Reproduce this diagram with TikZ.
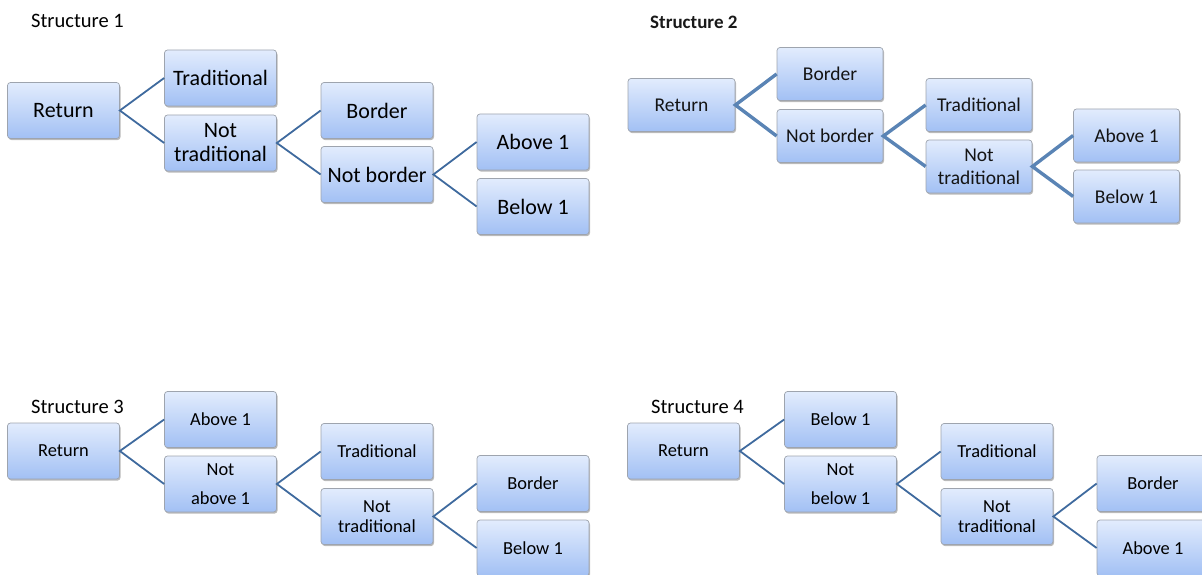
\documentclass[tikz,border=0pt]{standalone}
\usepackage{fontspec}
\setmainfont{Carlito}
\usetikzlibrary{shadows}
\definecolor{boxtop}{HTML}{E2ECFD}
\definecolor{boxbot}{HTML}{A2C0F4}
\definecolor{boxline}{HTML}{9EA4AE}
\definecolor{conn}{HTML}{3F6A9E}
\definecolor{conntwo}{HTML}{5A84B5}
\tikzset{
  bx/.style={rectangle, rounded corners=3pt, draw=boxline, line width=0.7pt,
    top color=boxtop, bottom color=boxbot, inner sep=0pt, align=center,
    drop shadow={shadow xshift=1pt, shadow yshift=-1.6pt, opacity=0.45, fill=black!60}},
  bxA/.style={bx, minimum width=112pt, minimum height=56pt, font=\fontsize{22}{24}\selectfont},
  bxB/.style={bx, minimum width=106pt, minimum height=53pt, font=\fontsize{19.5}{23}\selectfont, text=black!92},
  bxC/.style={bx, minimum width=112pt, minimum height=56pt, font=\fontsize{18.4}{29}\selectfont},
  bxCt/.style={bxC, font=\fontsize{18.4}{20}\selectfont},
  lnA/.style={draw=conn, line width=1.8pt},
  lnB/.style={draw=conntwo, line width=3.4pt},
  ttl/.style={anchor=west, inner sep=0pt, font=\fontsize{20.5}{24}\selectfont},
}
\begin{document}
\begin{tikzpicture}[x=1pt,y=-1pt]
\useasboundingbox (0,0) rectangle (1202,575);
\clip (0,0) rectangle (1202,575);
% ---------- Structure 1
\node[ttl] (t1) at (31,21) {Structure 1};
\node[bxA] (s1r) at (63.5,110.5) {Return};
\node[bxA] (s1a) at (220.5,78) {Traditional};
\node[bxA] (s1b) at (220.5,143) {Not\\traditional};
\node[bxA] (s1c) at (377,110.5) {Border};
\node[bxA] (s1d) at (377,174.5) {Not border};
\node[bxA] (s1e) at (533,142) {Above 1};
\node[bxA] (s1f) at (533,206.5) {Below 1};
\draw[lnA] (s1a.west) -- (s1r.east) -- (s1b.west);
\draw[lnA] (s1c.west) -- (s1b.east) -- (s1d.west);
\draw[lnA] (s1e.west) -- (s1d.east) -- (s1f.west);
% ---------- Structure 2
\node[ttl, font=\bfseries\fontsize{19}{23}\selectfont, text=black!90] (t2) at (650,22) {Structure 2};
\node[bxB, minimum width=107pt] (s2r) at (681.5,105) {Return};
\node[bxB] (s2a) at (830,74) {Border};
\node[bxB] (s2b) at (830,136) {Not border};
\node[bxB] (s2c) at (979,105) {Traditional};
\node[bxB] (s2d) at (979,166.5) {Not\\traditional};
\node[bxB] (s2e) at (1126.5,135.5) {Above 1};
\node[bxB] (s2f) at (1126.5,196.5) {Below 1};
\draw[lnB] (s2a.west) -- (s2r.east) -- (s2b.west);
\draw[lnB] (s2c.west) -- (s2b.east) -- (s2d.west);
\draw[lnB] (s2e.west) -- (s2d.east) -- (s2f.west);
% ---------- Structure 3
\node[ttl] (t3) at (31,407) {Structure 3};
\node[bxC] (s3r) at (63.5,451) {Return};
\node[bxC] (s3a) at (220.5,419.5) {Above 1};
\node[bxC] (s3b) at (220.5,484) {Not\\above 1};
\node[bxC] (s3c) at (377,451.5) {Traditional};
\node[bxCt] (s3d) at (377,516.5) {Not\\traditional};
\node[bxC] (s3e) at (533,483.5) {Border};
\node[bxC] (s3f) at (533,548) {Below 1};
\draw[lnA] (s3a.west) -- (s3r.east) -- (s3b.west);
\draw[lnA] (s3c.west) -- (s3b.east) -- (s3d.west);
\draw[lnA] (s3e.west) -- (s3d.east) -- (s3f.west);
% ---------- Structure 4
\node[ttl] (t4) at (651,407) {Structure 4};
\node[bxC] (s4r) at (683.5,451) {Return};
\node[bxC] (s4a) at (840.5,419.5) {Below 1};
\node[bxC] (s4b) at (840.5,484) {Not\\below 1};
\node[bxC] (s4c) at (997,451.5) {Traditional};
\node[bxCt] (s4d) at (997,516.5) {Not\\traditional};
\node[bxC] (s4e) at (1153,483.5) {Border};
\node[bxC] (s4f) at (1153,548) {Above 1};
\draw[lnA] (s4a.west) -- (s4r.east) -- (s4b.west);
\draw[lnA] (s4c.west) -- (s4b.east) -- (s4d.west);
\draw[lnA] (s4e.west) -- (s4d.east) -- (s4f.west);
\end{tikzpicture}
\end{document}
